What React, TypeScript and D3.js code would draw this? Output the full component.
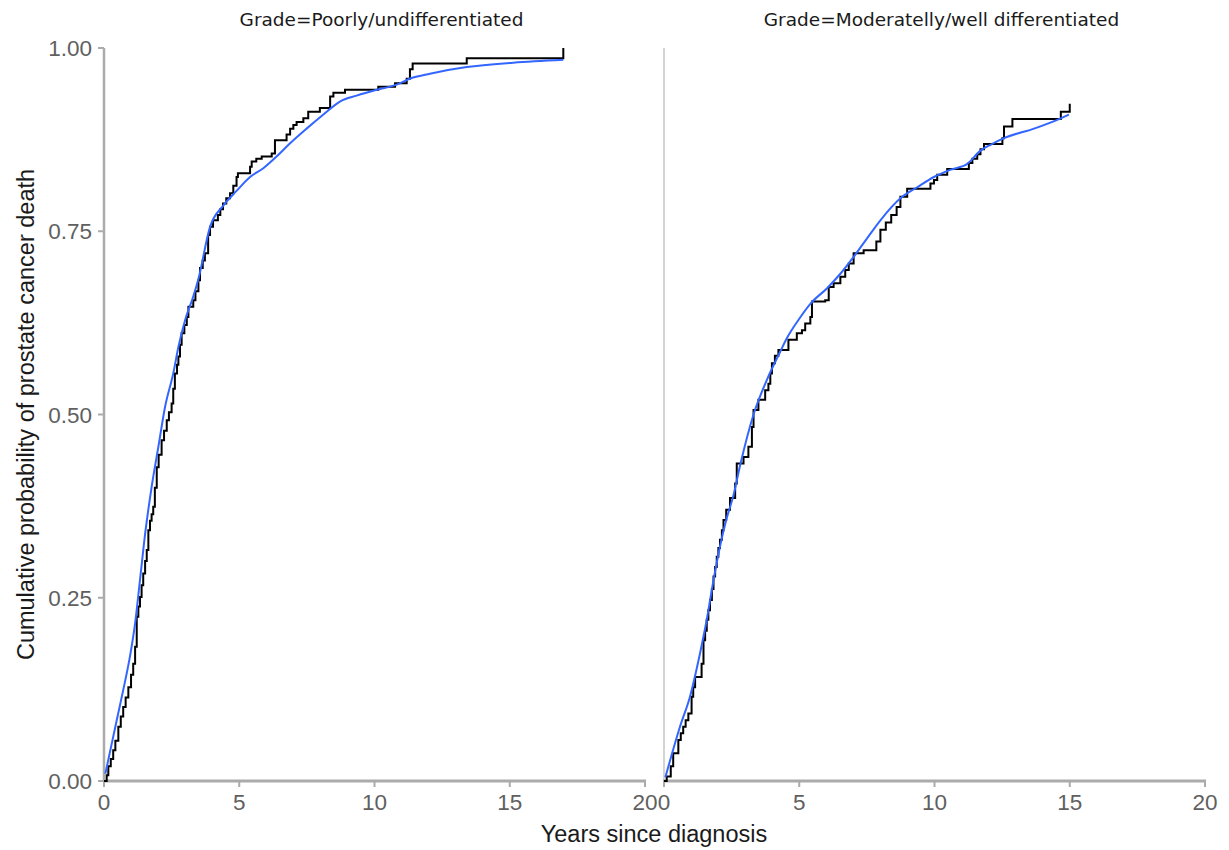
import React from "react";
import * as d3 from "d3";

// ---------- data ----------
const panelTitles = ["Grade=Poorly/undifferentiated", "Grade=Moderatelly/well differentiated"];
const xTicks = [0, 5, 10, 15, 20];
const yTicks = [0, 0.25, 0.5, 0.75, 1.0];

// Kaplan-Meier style step curve (time, cumulative probability after event)
const poorlySteps: [number, number][] = [
  [0.1, 0.008], [0.16, 0.02], [0.25, 0.03], [0.34, 0.042], [0.42, 0.055], [0.53, 0.074],
  [0.62, 0.088], [0.71, 0.101], [0.8, 0.114], [0.9, 0.128], [1.0, 0.145], [1.08, 0.16],
  [1.15, 0.183], [1.21, 0.224], [1.27, 0.238], [1.33, 0.251], [1.39, 0.267], [1.45, 0.283],
  [1.52, 0.3], [1.58, 0.315], [1.64, 0.342], [1.7, 0.355], [1.76, 0.364], [1.82, 0.374],
  [1.88, 0.4], [1.95, 0.428], [2.02, 0.445], [2.13, 0.465], [2.22, 0.478], [2.32, 0.492],
  [2.4, 0.503], [2.5, 0.515], [2.56, 0.535], [2.62, 0.556], [2.7, 0.568], [2.75, 0.579],
  [2.81, 0.595], [2.87, 0.611], [2.97, 0.622], [3.06, 0.633], [3.12, 0.647], [3.3, 0.656],
  [3.38, 0.668], [3.49, 0.683], [3.55, 0.7], [3.65, 0.71], [3.73, 0.72], [3.85, 0.745],
  [3.92, 0.756], [4.03, 0.765], [4.21, 0.772], [4.3, 0.78], [4.4, 0.788], [4.52, 0.795],
  [4.66, 0.802], [4.78, 0.812], [4.9, 0.824], [4.95, 0.829], [5.4, 0.838], [5.46, 0.845],
  [5.63, 0.849], [5.83, 0.852], [6.2, 0.856], [6.32, 0.874], [6.75, 0.882], [6.88, 0.89],
  [7.0, 0.895], [7.12, 0.899], [7.37, 0.904], [7.55, 0.913], [7.98, 0.918], [8.36, 0.934],
  [8.48, 0.939], [8.91, 0.943], [10.14, 0.947], [10.76, 0.952], [11.19, 0.958], [11.31, 0.971],
  [11.41, 0.979], [13.41, 0.986], [16.98, 1.0],
];

// smooth (parametric) fit
const poorlyFit: [number, number][] = [
  [0.05, 0.01], [0.28, 0.05], [0.53, 0.093], [0.71, 0.124], [0.96, 0.17], [1.15, 0.215],
  [1.33, 0.274], [1.52, 0.337], [1.76, 0.401], [2.01, 0.456], [2.26, 0.511], [2.56, 0.556],
  [2.75, 0.592], [3.0, 0.629], [3.3, 0.661], [3.49, 0.685], [3.92, 0.756], [4.41, 0.785],
  [4.9, 0.805], [5.4, 0.824], [5.89, 0.836], [6.38, 0.852], [6.88, 0.87], [7.49, 0.89],
  [8.1, 0.909], [8.72, 0.927], [9.34, 0.935], [10.08, 0.943], [10.82, 0.95], [11.37, 0.959],
  [12.05, 0.965], [13.41, 0.974], [15.13, 0.98], [16.98, 0.984],
];

const moderateSteps: [number, number][] = [
  [0.1, 0.006], [0.25, 0.02], [0.34, 0.038], [0.53, 0.056], [0.62, 0.065], [0.71, 0.074],
  [0.8, 0.083], [0.9, 0.092], [1.02, 0.115], [1.08, 0.128], [1.15, 0.142], [1.39, 0.16],
  [1.46, 0.192], [1.52, 0.205], [1.58, 0.22], [1.64, 0.233], [1.7, 0.247], [1.77, 0.262],
  [1.83, 0.279], [1.89, 0.292], [1.95, 0.306], [2.01, 0.318], [2.07, 0.329], [2.14, 0.342],
  [2.2, 0.356], [2.3, 0.37], [2.44, 0.386], [2.63, 0.406], [2.69, 0.433], [2.94, 0.442],
  [3.12, 0.456], [3.25, 0.483], [3.31, 0.506], [3.49, 0.52], [3.74, 0.533], [3.86, 0.542],
  [3.93, 0.556], [3.99, 0.57], [4.1, 0.58], [4.23, 0.588], [4.6, 0.602], [4.91, 0.611],
  [5.1, 0.615], [5.22, 0.624], [5.41, 0.633], [5.47, 0.654], [5.96, 0.656], [6.09, 0.674],
  [6.27, 0.679], [6.52, 0.688], [6.7, 0.697], [6.83, 0.706], [7.01, 0.72], [7.38, 0.724],
  [7.85, 0.736], [8.0, 0.752], [8.2, 0.762], [8.4, 0.772], [8.6, 0.783], [8.74, 0.797],
  [8.99, 0.808], [9.85, 0.815], [9.98, 0.82], [10.1, 0.827], [10.47, 0.835], [11.27, 0.843],
  [11.4, 0.849], [11.58, 0.855], [11.7, 0.862], [11.83, 0.869], [12.51, 0.877], [12.57, 0.893],
  [12.88, 0.903], [14.67, 0.913], [15.0, 0.924],
];

const moderateFit: [number, number][] = [
  [0.05, 0.005], [0.59, 0.074], [0.96, 0.115], [1.33, 0.174], [1.58, 0.22], [1.83, 0.274],
  [2.07, 0.32], [2.3, 0.356], [2.57, 0.39], [2.81, 0.43], [3.31, 0.5], [3.8, 0.547],
  [4.3, 0.586], [4.54, 0.604], [4.97, 0.629], [5.41, 0.651], [6.02, 0.672], [6.52, 0.692],
  [7.01, 0.715], [7.5, 0.74], [8.0, 0.765], [8.74, 0.795], [9.36, 0.81], [9.98, 0.824],
  [10.6, 0.834], [11.21, 0.842], [11.7, 0.86], [12.07, 0.868], [12.57, 0.877], [13.68, 0.89],
  [14.67, 0.904], [14.97, 0.909],
];

const panels = [
  { title: panelTitles[0], steps: poorlySteps, fit: poorlyFit },
  { title: panelTitles[1], steps: moderateSteps, fit: moderateFit },
];

// ---------- layout ----------
const W = 1229;
const H = 850;
const panelLefts = [104, 664];
const panelWidth = 541;
const yTop = 48;
const yBottom = 781;

const y = d3.scaleLinear().domain([0, 1]).range([yBottom, yTop]);

const tickFont = "'Liberation Sans', Arial, sans-serif";

export default function App() {
  return (
    <svg width={W} height={H} style={{ display: "block", position: "absolute", left: 0, top: 0 }}>
      <rect width={W} height={H} fill="#ffffff" />
      {panels.map((p, i) => {
        const x = d3.scaleLinear().domain([0, 20]).range([panelLefts[i], panelLefts[i] + panelWidth]);
        const stepPts: [number, number][] = [[0, 0], ...p.steps];
        const stepLine = d3
          .line<[number, number]>()
          .x((d) => x(d[0]))
          .y((d) => y(d[1]))
          .curve(d3.curveStepAfter);
        const fitLine = d3
          .line<[number, number]>()
          .x((d) => x(d[0]))
          .y((d) => y(d[1]))
          .curve(d3.curveMonotoneX);
        const cx = (x(0) + x(20)) / 2;
        return (
          <g key={i}>
            <text
              x={cx + 7}
              y={26}
              textAnchor="middle"
              fontFamily="'DejaVu Sans', Verdana, sans-serif"
              fontSize={18.5}
              fill="#1a1a1a"
            >
              {p.title}
            </text>
            {i === 0 ? (
              <g>
                <line x1={x(0)} x2={x(0)} y1={yTop} y2={yBottom} stroke="#ababab" strokeWidth={2.5} />
                {yTicks.map((t) => (
                  <g key={t}>
                    <line x1={x(0) - 6} x2={x(0)} y1={y(t)} y2={y(t)} stroke="#ababab" strokeWidth={2} />
                    <text
                      x={x(0) - 12}
                      y={y(t)}
                      dy="0.36em"
                      textAnchor="end"
                      fontFamily={tickFont}
                      fontSize={22.5}
                      fill="#606060"
                    >
                      {t.toFixed(2)}
                    </text>
                  </g>
                ))}
              </g>
            ) : (
              <line x1={x(0)} x2={x(0)} y1={yTop} y2={yBottom} stroke="#d4d4d4" strokeWidth={2} />
            )}
            <line x1={x(0) - 1} x2={x(20) + 1} y1={yBottom} y2={yBottom} stroke="#ababab" strokeWidth={3} />
            {xTicks.map((t) => (
              <g key={t}>
                <line x1={x(t)} x2={x(t)} y1={yBottom} y2={yBottom + 6} stroke="#ababab" strokeWidth={2} />
                <text
                  x={x(t)}
                  y={yBottom + 29}
                  textAnchor="middle"
                  fontFamily={tickFont}
                  fontSize={22.5}
                  fill="#606060"
                >
                  {t}
                </text>
              </g>
            ))}
            <path d={stepLine(stepPts) || ""} fill="none" stroke="#000000" strokeWidth={2} />
            <path d={fitLine(p.fit) || ""} fill="none" stroke="#3366ff" strokeWidth={2} />
          </g>
        );
      })}
      <text
        x={654}
        y={842}
        textAnchor="middle"
        fontFamily={tickFont}
        fontSize={23.5}
        fill="#1a1a1a"
      >
        Years since diagnosis
      </text>
      <text
        transform={`translate(34, ${(yTop + yBottom) / 2}) rotate(-90)`}
        textAnchor="middle"
        fontFamily={tickFont}
        fontSize={23.5}
        fill="#1a1a1a"
      >
        Cumulative probability of prostate cancer death
      </text>
    </svg>
  );
}
